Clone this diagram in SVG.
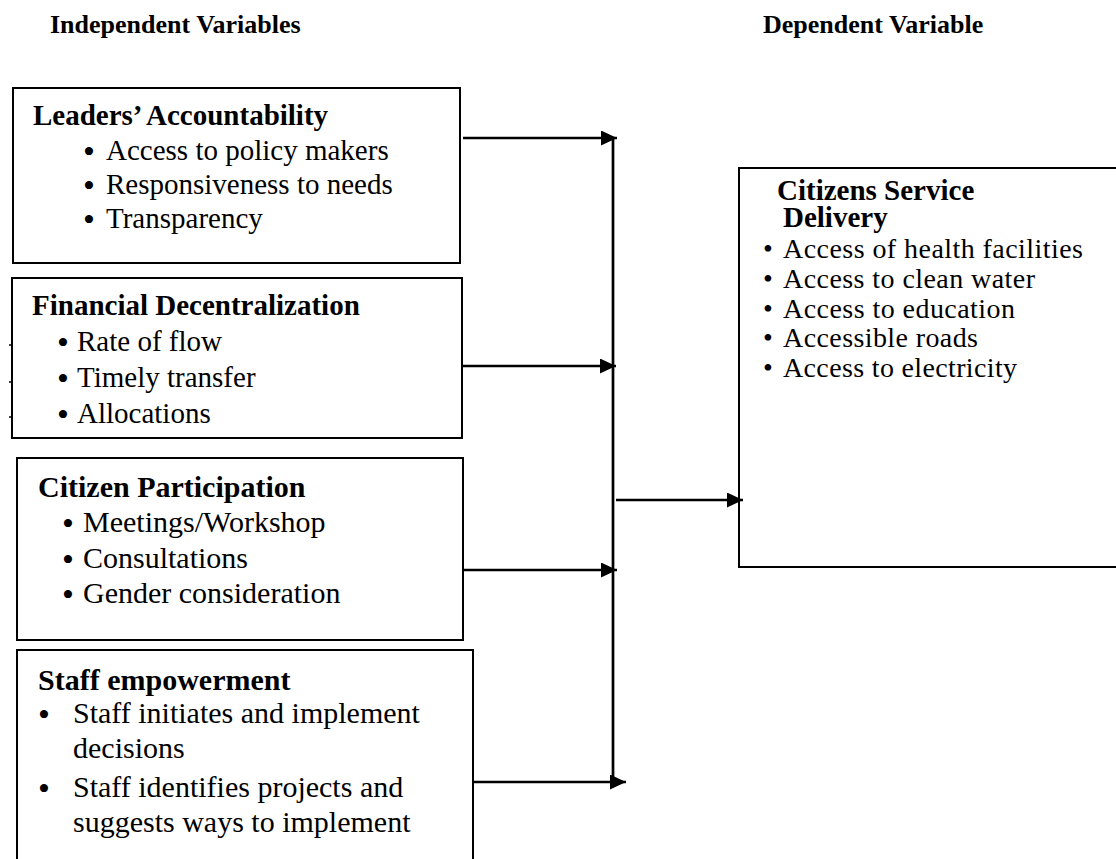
<svg xmlns="http://www.w3.org/2000/svg" width="1116" height="859" viewBox="0 0 1116 859">
<style>
text{font-family:"Liberation Serif","Times New Roman",serif;fill:#000}
.h{font-size:26px;font-weight:bold}
.t{font-size:29px;font-weight:bold}
.t30{font-size:30px;font-weight:bold}
.b{font-size:29px}
.b30{font-size:30px}
.d{text-anchor:middle;font-size:34px}
.r{font-size:28px}
.dr{text-anchor:middle}
.box{fill:#fff;stroke:#000;stroke-width:2}
.con{stroke:#000;stroke-width:2.7;fill:none}
</style>
<defs>
<marker id="ah" markerUnits="userSpaceOnUse" markerWidth="16" markerHeight="15" refX="16" refY="7.5" orient="auto">
<path d="M0,0 L16,7.5 L0,15 z" fill="#000"/>
</marker>
</defs>
<rect width="1116" height="859" fill="#fff"/>
<g id="headers">
<text class="h" x="50" y="33">Independent Variables</text>
<text class="h" x="763" y="33">Dependent Variable</text>
</g>
<g id="leaders">
<rect class="box" x="13" y="88" width="447" height="175"/>
<text class="t" x="33" y="125">Leaders’ Accountability</text>
<text class="b" y="160"><tspan class="d" x="89" dy="3">•</tspan><tspan x="106" dy="-3">Access to policy makers</tspan></text>
<text class="b" y="194"><tspan class="d" x="89" dy="3">•</tspan><tspan x="106" dy="-3">Responsiveness to needs</tspan></text>
<text class="b" y="228"><tspan class="d" x="89" dy="3">•</tspan><tspan x="106" dy="-3">Transparency</tspan></text>
</g>
<g id="financial">
<rect class="box" x="12" y="278" width="450" height="160"/>
<path d="M9,345 H12 M9,382 H12 M9,417 H12" stroke="#000" stroke-width="1.5"/>
<text class="t" x="32" y="315">Financial Decentralization</text>
<text class="b" y="351"><tspan class="d" x="63" dy="3">•</tspan><tspan x="77" dy="-3">Rate of flow</tspan></text>
<text class="b" y="387"><tspan class="d" x="63" dy="3">•</tspan><tspan x="77" dy="-3">Timely transfer</tspan></text>
<text class="b" y="423"><tspan class="d" x="63" dy="3">•</tspan><tspan x="77" dy="-3">Allocations</tspan></text>
</g>
<g id="participation">
<rect class="box" x="17" y="458" width="446" height="182"/>
<text class="t30" x="38" y="497">Citizen Participation</text>
<text class="b30" y="532"><tspan class="d" x="68" dy="3">•</tspan><tspan x="83" dy="-3">Meetings/Workshop</tspan></text>
<text class="b30" y="568"><tspan class="d" x="68" dy="3">•</tspan><tspan x="83" dy="-3">Consultations</tspan></text>
<text class="b30" y="603"><tspan class="d" x="68" dy="3">•</tspan><tspan x="83" dy="-3">Gender consideration</tspan></text>
</g>
<g id="staff">
<rect class="box" x="17" y="650" width="456" height="230"/>
<text class="t30" x="38" y="690">Staff empowerment</text>
<text class="b30" y="723"><tspan class="d" x="44" dy="3">•</tspan><tspan x="73" dy="-3">Staff initiates and implement</tspan></text>
<text class="b30" x="73" y="758">decisions</text>
<text class="b30" y="797"><tspan class="d" x="44" dy="3">•</tspan><tspan x="73" dy="-3">Staff identifies projects and</tspan></text>
<text class="b30" x="73" y="832">suggests ways to implement</text>
</g>
<g id="delivery">
<rect class="box" x="739" y="168" width="390" height="399"/>
<text class="t"><tspan x="777" y="200">Citizens Service</tspan><tspan x="783" y="227">Delivery</tspan></text>
<text class="r" y="258"><tspan class="dr" x="768">•</tspan><tspan x="783" textLength="300" lengthAdjust="spacing">Access of health facilities</tspan></text>
<text class="r" y="288"><tspan class="dr" x="768">•</tspan><tspan x="783" textLength="252" lengthAdjust="spacing">Access to clean water</tspan></text>
<text class="r" y="318"><tspan class="dr" x="768">•</tspan><tspan x="783" textLength="232" lengthAdjust="spacing">Access to education</tspan></text>
<text class="r" y="347"><tspan class="dr" x="768">•</tspan><tspan x="783" textLength="195" lengthAdjust="spacing">Accessible roads</tspan></text>
<text class="r" y="377"><tspan class="dr" x="768">•</tspan><tspan x="783" textLength="234" lengthAdjust="spacing">Access to electricity</tspan></text>
</g>
<g id="connectors">
<line class="con" x1="613" y1="138" x2="613" y2="777"/>
<line class="con" x1="463" y1="138" x2="617" y2="138" marker-end="url(#ah)"/>
<line class="con" x1="462" y1="366" x2="616" y2="366" marker-end="url(#ah)"/>
<line class="con" x1="463" y1="570" x2="617" y2="570" marker-end="url(#ah)"/>
<line class="con" x1="473" y1="782" x2="626" y2="782" marker-end="url(#ah)"/>
<line class="con" x1="616" y1="500" x2="743" y2="500" marker-end="url(#ah)"/>
</g>
</svg>
